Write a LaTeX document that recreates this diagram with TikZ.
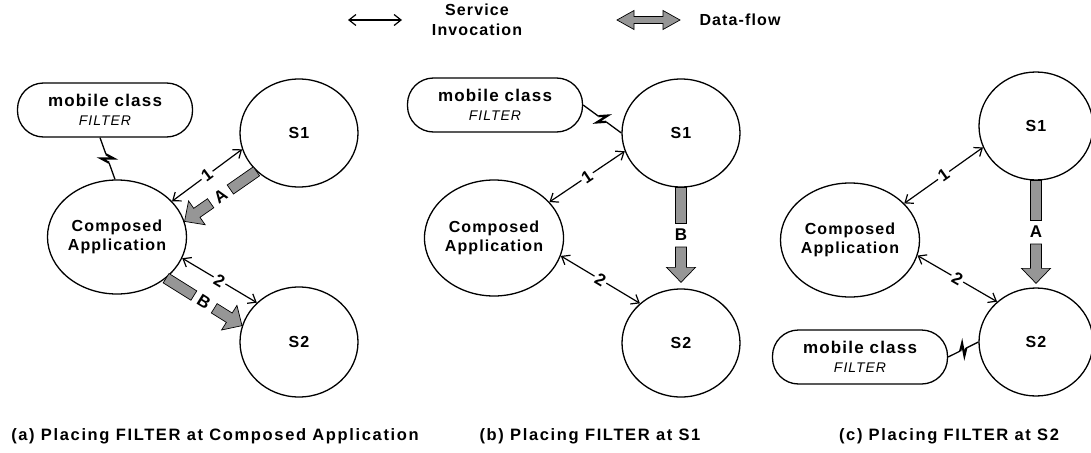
\documentclass[tikz,border=0pt]{standalone}
\usepackage{fontspec}
\setmainfont{Liberation Sans}[LetterSpace=7]
\usetikzlibrary{calc,arrows.meta,shapes.geometric}
\definecolor{flowgray}{RGB}{150,150,150}
\tikzset{
  circnode/.style={draw, line width=1.3pt, ellipse, inner sep=0pt, align=center,
    font=\fontsize{16}{19}\selectfont\bfseries},
  mbox/.style={draw, line width=1.3pt, rounded corners=26pt, minimum width=175pt,
    minimum height=54pt, inner sep=0pt, align=center, font=\fontsize{17}{19}\selectfont},
  inv/.style={line width=1.2pt, {Straight Barb[length=7pt,width=11pt]}-{Straight Barb[length=7pt,width=11pt]}},
  lbl/.style={fill=white, inner sep=2pt, font=\fontsize{17}{17}\selectfont\bfseries},
  flowbody/.style={draw=black, line width=0.7pt, fill=flowgray, line join=miter},
  boltline/.style={line width=1.3pt, line join=miter},
  boltzig/.style={line width=2.2pt, line join=miter},
  legtext/.style={align=center, font=\fontsize{16}{20}\selectfont\bfseries},
  captext/.style={font=\fontsize{16.5}{18}\selectfont\bfseries\addfontfeatures{LetterSpace=10}}
}
% block (data-flow) arrow from #1 to #2 with label #3 (options #4)
\newcommand\flowarrow[4]{%
  \filldraw[flowbody] ($(#1)!5.5pt!90:(#2)$) -- ($(#1)!0.5!(#2)!12pt!(#1)!5.5pt!90:(#2)$)
    -- ($(#1)!0.5!(#2)!12pt!(#1)!5.5pt!-90:(#2)$) -- ($(#1)!5.5pt!-90:(#2)$) -- cycle;
  \filldraw[flowbody] ($(#1)!0.5!(#2)!12pt!(#2)!5.5pt!90:(#2)$)
    -- ($(#2)!15pt!(#1)!5.5pt!90:(#2)$) -- ($(#2)!15pt!(#1)!14.5pt!90:(#2)$)
    -- (#2) -- ($(#2)!15pt!(#1)!14.5pt!-90:(#2)$) -- ($(#2)!15pt!(#1)!5.5pt!-90:(#2)$)
    -- ($(#1)!0.5!(#2)!12pt!(#2)!5.5pt!-90:(#2)$) -- cycle;
  \path (#1) -- node[midway, inner sep=0pt, font=\fontsize{17}{17}\selectfont\bfseries, #4] {#3} (#2);
}
% lightning connector
\newcommand\bolt[2]{%
  \draw[boltline] (#1) -- ($(#1)!0.40!(#2)$);
  \draw[boltzig] ($(#1)!0.40!(#2)$) -- ($(#1)!0.55!(#2)!6pt!90:(#2)$)
    -- ($(#1)!0.45!(#2)!6pt!-90:(#2)$) -- ($(#1)!0.60!(#2)$);
  \draw[boltline] ($(#1)!0.60!(#2)$) -- (#2);
}
\begin{document}
\begin{tikzpicture}[x=1pt,y=-1pt]
\fill[white] (0,0) rectangle (1091,452);
\useasboundingbox (0,0) rectangle (1091,452);

% ---------- legend ----------
\coordinate (ls1) at (348,20);
\coordinate (ls2) at (402,20);
\draw[inv] (ls1) -- (ls2);
\node[legtext] (lsi) at (477,20) {Service\\Invocation};
\filldraw[flowbody] (617,20) -- (634,10.5) -- (634,16.5) -- (663,16.5) -- (663,10.5)
  -- (680,20) -- (663,29.5) -- (663,23.5) -- (634,23.5) -- (634,29.5) -- cycle;
\node[legtext] (ldf) at (740,20) {Data-flow};

% ---------- (a) ----------
\node[mbox] (m1) at (105,110) {\bfseries mobile class\\{\fontsize{14}{19}\selectfont\itshape FILTER}};
\node[circnode, minimum width=118pt, minimum height=108pt] (s1a) at (299,133) {S1};
\node[circnode, minimum width=126pt, minimum height=114pt] (ca1) at (117,237) {Composed\\Application};
\node[circnode, minimum width=118pt, minimum height=110pt] (s2a) at (299,342) {S2};
\coordinate (m1b) at ([xshift=-5pt]m1.south);
\bolt{m1b}{ca1.92}
\draw[inv] (ca1.33) -- node[lbl, sloped] {1} (s1a.196);
\draw[inv] (ca1.-18) -- node[lbl, sloped] {2} (s2a.137);
\flowarrow{s1a.222}{ca1.13}{A}{sloped}
\flowarrow{ca1.-40}{s2a.164}{B}{sloped}
\node[captext] (capa) at (215,436) {(a) Placing FILTER at Composed Application};

% ---------- (b) ----------
\node[mbox] (m2) at (495,105) {\bfseries mobile class\\{\fontsize{14}{19}\selectfont\itshape FILTER}};
\node[circnode, minimum width=118pt, minimum height=108pt] (s1b) at (681,133) {S1};
\node[circnode, minimum width=128pt, minimum height=116pt] (cab) at (494,238) {Composed\\Application};
\node[circnode, minimum width=118pt, minimum height=108pt] (s2b) at (681,343) {S2};
\bolt{m2.east}{s1b.180}
\draw[inv] (cab.33) -- node[lbl, sloped] {1} (s1b.198);
\draw[inv] (cab.-15) -- node[lbl, sloped] {2} (s2b.136);
\coordinate (tipb) at ([yshift=6pt]s2b.north);
\flowarrow{s1b.south}{tipb}{B}{}
\node[captext] (capb) at (590,436) {(b) Placing FILTER at S1};

% ---------- (c) ----------
\node[circnode, minimum width=114pt, minimum height=108pt] (s1c) at (1036,126) {S1};
\node[circnode, minimum width=126pt, minimum height=114pt] (cac) at (850,240) {Composed\\Application};
\node[circnode, minimum width=114pt, minimum height=108pt] (s2c) at (1036,342) {S2};
\node[mbox] (m3) at (860,357) {\bfseries mobile class\\{\fontsize{14}{19}\selectfont\itshape FILTER}};
\bolt{m3.east}{s2c.180}
\draw[inv] (cac.34) -- node[lbl, sloped] {1} (s1c.202);
\draw[inv] (cac.-13) -- node[lbl, sloped] {2} (s2c.134);
\coordinate (tipc) at ([yshift=4pt]s2c.north);
\flowarrow{s1c.south}{tipc}{A}{}
\node[captext] (capc) at (949,436) {(c) Placing FILTER at S2};
\end{tikzpicture}
\end{document}
